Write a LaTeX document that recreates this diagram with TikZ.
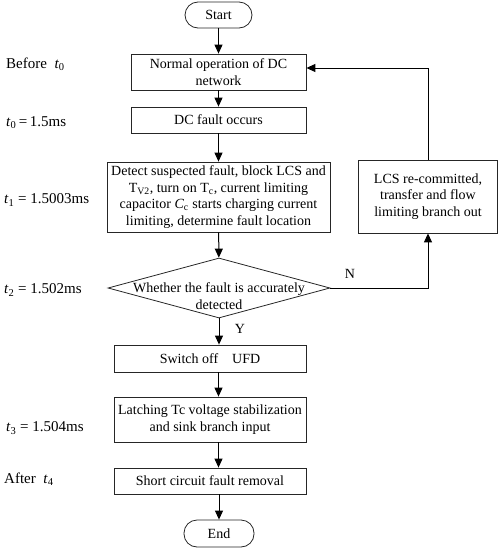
\documentclass[tikz,border=0pt]{standalone}
\usepackage{fontspec}
\setmainfont{Liberation Serif}
\usetikzlibrary{shapes.geometric,arrows.meta}
\begin{document}
\begin{tikzpicture}[x=1pt,y=-1pt,
  box/.style={draw=black!85, line width=0.8pt, align=center, inner sep=1pt,
    font=\fontsize{14}{16.5}\selectfont},
  term/.style={draw=black!85, line width=0.8pt, rounded corners=13pt, align=center, inner sep=1pt,
    font=\fontsize{14}{16.5}\selectfont},
  lbl/.style={anchor=west, inner sep=0pt, font=\fontsize{15}{18}\selectfont},
  arr/.style={line width=1pt, -{Triangle[length=9pt,width=8pt]}},
  ynlbl/.style={font=\fontsize{14}{16.5}\selectfont}]
\useasboundingbox (0,0) rectangle (498,549);
\node[term, minimum width=67pt, minimum height=26pt] (start) at (218.5,15) {Start};
\node[box, minimum width=175pt, minimum height=36pt] (normal) at (218.5,72) {Normal operation of DC\\network};
\node[box, minimum width=175pt, minimum height=26pt] (fault) at (218.5,120) {DC fault occurs};
\node[box, minimum width=223pt, minimum height=70pt] (detect) at (218.5,197) {Detect suspected fault, block LCS and\\T\textsubscript{V2}, turn on T\textsubscript{c}, current limiting\\capacitor \textit{C}\textsubscript{c} starts charging current\\limiting, determine fault location};
\node[box, minimum width=139pt, minimum height=73pt] (lcs) at (428,196.5) {LCS re-committed,\\transfer and flow\\limiting branch out};
\node[draw=black!85, line width=0.8pt, diamond, minimum width=222pt, minimum height=60pt, inner sep=0pt] (dec) at (219,288) {};
\node[align=center, inner sep=0pt, font=\fontsize{14}{16.5}\selectfont] (dectext) at (219,296) {Whether the fault is accurately\\detected};
\node[box, minimum width=192pt, minimum height=27pt] (switch) at (210,358.5) {Switch off\quad UFD};
\node[box, minimum width=192pt, minimum height=45pt] (latch) at (210,419.5) {Latching Tc voltage stabilization\\and sink branch input};
\node[box, minimum width=192pt, minimum height=26pt] (short) at (210,481) {Short circuit fault removal};
\node[term, minimum width=70pt, minimum height=27pt] (end) at (219,533.5) {End};

\node[lbl] (l0) at (6,64) {Before\ \ \textit{t}\textsubscript{0}};
\node[lbl] (l1) at (6,123) {\textit{t}\textsubscript{0}\,=\,1.5ms};
\node[lbl] (l2) at (4,200) {\textit{t}\textsubscript{1} = 1.5003ms};
\node[lbl] (l3) at (4,290) {\textit{t}\textsubscript{2} = 1.502ms};
\node[lbl] (l4) at (6,428) {\textit{t}\textsubscript{3} = 1.504ms};
\node[lbl] (l5) at (4,479) {After\ \ \textit{t}\textsubscript{4}};

\draw[arr] (start) -- (normal);
\draw[arr] (normal) -- (fault);
\draw[arr] (fault) -- (detect);
\draw[arr] (detect) -- (dec);
\draw[arr] (dec.south) -- (switch.north -| dec.south) node[ynlbl, pos=0.4, right=12pt] {Y};
\draw[arr] (switch.south -| start) -- (latch.north -| start);
\draw[arr] (latch.south -| start) -- (short.north -| start);
\draw[arr] (short.south -| end) -- (end);
\draw[arr] (dec.east) -| (lcs.south) node[ynlbl, pos=0.1, above=6pt] {N};
\draw[arr] (lcs.north) |- ([yshift=4pt]normal.east);
\end{tikzpicture}
\end{document}
